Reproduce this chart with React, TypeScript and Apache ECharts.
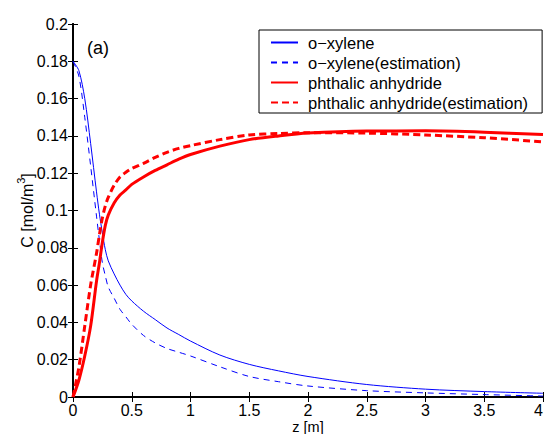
import React, { useEffect, useRef } from "react";
import * as echarts from "echarts";

const zValues = [0, 0.05, 0.1, 0.15, 0.2, 0.225, 0.25, 0.275, 0.3, 0.35, 0.4, 0.45, 0.5, 0.6, 0.7, 0.8, 0.9, 1.0, 1.25, 1.5, 1.75, 2, 2.5, 3, 3.5, 4];
const xyleneSim = [0.18, 0.175, 0.16, 0.136, 0.11, 0.098, 0.088, 0.079, 0.073, 0.066, 0.06, 0.055, 0.0515, 0.046, 0.0415, 0.037, 0.0335, 0.03, 0.0225, 0.0175, 0.014, 0.011, 0.0067, 0.0042, 0.0029, 0.002];
const xyleneEst = [0.18, 0.172, 0.15, 0.124, 0.097, 0.084, 0.072, 0.065, 0.059, 0.053, 0.047, 0.043, 0.039, 0.033, 0.029, 0.026, 0.024, 0.022, 0.0162, 0.011, 0.0082, 0.0059, 0.0034, 0.0022, 0.0013, 0.0005];
const phthalicSim = [0, 0.009, 0.022, 0.038, 0.062, 0.072, 0.083, 0.092, 0.0975, 0.104, 0.1083, 0.111, 0.114, 0.118, 0.1215, 0.1245, 0.1275, 0.13, 0.1345, 0.138, 0.14, 0.1415, 0.1426, 0.1427, 0.142, 0.1407];
const phthalicEst = [0, 0.016, 0.038, 0.06, 0.077, 0.087, 0.096, 0.1025, 0.107, 0.1135, 0.118, 0.1205, 0.1225, 0.1253, 0.1285, 0.1312, 0.1333, 0.1348, 0.138, 0.1405, 0.1413, 0.1417, 0.1415, 0.1405, 0.139, 0.1368];
const seriesNames = ["o\u2212xylene", "o\u2212xylene(estimation)", "phthalic anhydride", "phthalic anhydride(estimation)"];

const FONT = "'Liberation Sans', Arial, Helvetica, sans-serif";

function pairs(ys: number[]) {
  return zValues.map((z, i) => [z, ys[i]]);
}

export default function App() {
  const ref = useRef<HTMLDivElement>(null);
  useEffect(() => {
    if (!ref.current) return;
    const chart = echarts.init(ref.current, undefined, { renderer: "svg" });
    const axisLine = { show: true, lineStyle: { color: "#000", width: 2 } };
    const tick = { show: true, inside: true, length: 5, lineStyle: { color: "#000", width: 1 } };
    chart.setOption({
      animation: false,
      backgroundColor: "#fff",
      textStyle: { fontFamily: FONT },
      grid: { left: 73, right: 2, top: 24, bottom: 37, containLabel: false, outerBoundsMode: "none" },
      xAxis: [
        {
          type: "value", min: 0, max: 4, interval: 0.5, position: "bottom",
          name: "z [m]", nameLocation: "middle", nameGap: 23, nameMoveOverlap: false,
          nameTextStyle: { fontSize: 14.5, lineHeight: 13, color: "#000", fontFamily: FONT },
          axisLine, axisTick: tick, splitLine: { show: false },
          axisLabel: { fontSize: 16, lineHeight: 14, color: "#000", margin: 6, fontFamily: FONT, alignMaxLabel: "right" },
        },
        {
          type: "value", min: 0, max: 4, interval: 0.5, position: "top",
          axisLine, axisTick: tick, splitLine: { show: false }, axisLabel: { show: false },
        },
      ],
      yAxis: [
        {
          type: "value", min: 0, max: 0.2, interval: 0.02, position: "left",
          name: "{n|C [mol/m}{s|3}{n|]}", nameLocation: "middle", nameGap: 38, nameRotate: 90, nameMoveOverlap: false,
          nameTextStyle: {
            fontSize: 16, color: "#000", fontFamily: FONT,
            rich: {
              n: { fontSize: 16, lineHeight: 20, fontFamily: FONT, color: "#000", verticalAlign: "bottom" },
              s: { fontSize: 11, lineHeight: 20, fontFamily: FONT, color: "#000", verticalAlign: "top" },
            },
          },
          axisLine, axisTick: tick, splitLine: { show: false },
          axisLabel: { fontSize: 16, color: "#000", margin: 5, fontFamily: FONT },
        },
        {
          type: "value", min: 0, max: 0.2, interval: 0.02, position: "right",
          axisLine, axisTick: tick, splitLine: { show: false }, axisLabel: { show: false },
        },
      ],
      legend: {
        orient: "vertical", left: 259, top: 30,
        backgroundColor: "#fff", borderColor: "#000", borderWidth: 1,
        padding: [4, 14, 2, 11],
        itemWidth: 27, itemHeight: 14, itemGap: 3,
        itemStyle: { opacity: 0 },
        textStyle: { fontSize: 16.5, lineHeight: 16, color: "#000", fontFamily: FONT, padding: [0, 0, 0, 5] },
        data: seriesNames,
      },
      graphic: [
        { type: "text", left: 87, top: 39, style: { text: "(a)", fontSize: 18, fill: "#000", fontFamily: FONT } },
      ],
      series: [
        {
          name: seriesNames[0], type: "line", symbol: "none", smooth: 0.3,
          data: pairs(xyleneSim), lineStyle: { color: "#0000ff", width: 1 }, itemStyle: { color: "#0000ff" },
        },
        {
          name: seriesNames[1], type: "line", symbol: "none", smooth: 0.3,
          data: pairs(xyleneEst), lineStyle: { color: "#0000ff", width: 1, type: [6, 5] }, itemStyle: { color: "#0000ff" },
        },
        {
          name: seriesNames[2], type: "line", symbol: "none", smooth: 0.3,
          data: pairs(phthalicSim), lineStyle: { color: "#ff0000", width: 3 }, itemStyle: { color: "#ff0000" },
        },
        {
          name: seriesNames[3], type: "line", symbol: "none", smooth: 0.3,
          data: pairs(phthalicEst), lineStyle: { color: "#ff0000", width: 3, type: [7, 4] }, itemStyle: { color: "#ff0000" },
        },
      ],
    });
    return () => chart.dispose();
  }, []);
  return <div ref={ref} style={{ position: "fixed", left: 0, top: 0, width: 545, height: 434 }} />;
}
